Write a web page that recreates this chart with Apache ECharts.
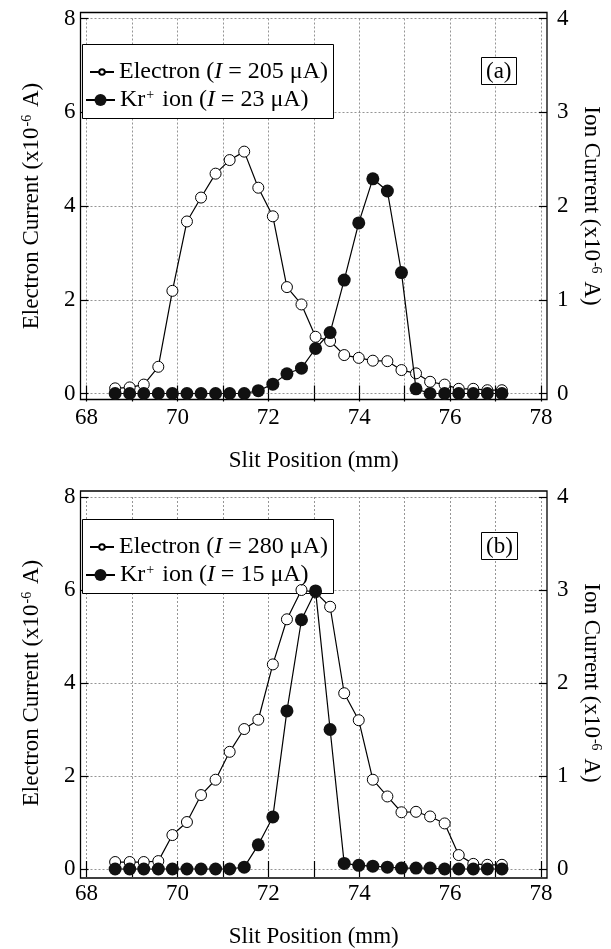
<!DOCTYPE html>
<html><head><meta charset="utf-8">
<script src="https://cdn.jsdelivr.net/npm/echarts@6/dist/echarts.min.js"></script>
<style>html,body{margin:0;padding:0;background:#fff}#c{width:611px;height:949px}</style>
</head><body><div id="c"></div>
<script>
// ---- data ----
const slitPos = [68.63, 68.95, 69.26, 69.58, 69.89, 70.21, 70.52, 70.84, 71.15, 71.47, 71.78, 72.10, 72.41, 72.73, 73.04, 73.36, 73.67, 73.99, 74.30, 74.62, 74.93, 75.25, 75.56, 75.88, 76.19, 76.51, 76.82, 77.14];
const electronA = [0.11, 0.13, 0.19, 0.57, 2.19, 3.67, 4.18, 4.69, 4.98, 5.16, 4.39, 3.78, 2.27, 1.90, 1.21, 1.12, 0.82, 0.76, 0.70, 0.69, 0.50, 0.43, 0.25, 0.19, 0.10, 0.10, 0.07, 0.07];
const ionA = [0, 0, 0, 0, 0, 0, 0, 0, 0, 0, 0.03, 0.10, 0.21, 0.27, 0.48, 0.65, 1.21, 1.82, 2.29, 2.16, 1.29, 0.05, 0, 0, 0, 0, 0, 0];
const electronB = [0.15, 0.15, 0.15, 0.17, 0.73, 1.01, 1.59, 1.92, 2.52, 3.01, 3.21, 4.40, 5.37, 6.00, 5.95, 5.64, 3.78, 3.20, 1.92, 1.56, 1.22, 1.23, 1.13, 0.98, 0.30, 0.11, 0.09, 0.09];
const ionB = [0, 0, 0, 0, 0, 0, 0, 0, 0, 0.02, 0.26, 0.56, 1.70, 2.68, 2.99, 1.50, 0.06, 0.04, 0.03, 0.02, 0.01, 0.01, 0.01, 0, 0, 0, 0, 0];
const xTicks = [68, 70, 72, 74, 76, 78];
const panelLabels = ['(a)', '(b)'];
const legendTexts = {
  eA: 'Electron ({it|I} = 205 μA)',
  iA: 'Kr{sup|+} ion ({it|I} = 23 μA)',
  eB: 'Electron ({it|I} = 280 μA)',
  iB: 'Kr{sup|+} ion ({it|I} = 15 μA)'
};
const xName = 'Slit Position (mm)';
const yLeftName = 'Electron Current (x10{sup|-6} A)';
const yRightName = 'Ion Current (x10{sup|-6} A)';

// ---- layout ----
const FONT = 'Liberation Serif';
const BLACK = '#000';
function textStyle(size) {
  return {fontFamily: FONT, fontSize: size, color: BLACK, rich: {
    it: {fontFamily: FONT, fontSize: size, fontStyle: 'italic', color: BLACK},
    sup: {fontFamily: FONT, fontSize: Math.round(size * 0.6), verticalAlign: 'top', color: BLACK, padding: [0, 2, 0, 1]}
  }};
}
const axisText = textStyle(23);
const legText = textStyle(24);
const panelTops = [18.5, 497];
const legendShift = [0, 475];
const DL = 86.5, DW = 454.5, DH = 375, OFF = 6;

const grid = [], xAxis = [], yAxis = [], series = [], legend = [], title = [], graphic = [];
const sets = [[electronA, ionA, 'eA', 'iA'], [electronB, ionB, 'eB', 'iB']];

panelTops.forEach((T, p) => {
  const g = grid.length;
  grid.push({left: DL, top: T, width: DW, height: DH});
  grid.push({left: DL - OFF, top: T - OFF, width: DW + 2 * OFF, height: DH + 2 * OFF,
    show: true, borderColor: BLACK, borderWidth: 1.3, backgroundColor: 'transparent'});
  const xi = xAxis.length, yi = yAxis.length;
  const tick = {show: true, inside: true, length: 8, lineStyle: {color: BLACK, width: 1.2}};
  const grey = {show: true, lineStyle: {color: '#8a8a8a', width: 0.9, type: [2, 2]}};
  xAxis.push({gridIndex: g, type: 'value', min: 68, max: 78, interval: 1, position: 'bottom', offset: OFF,
    axisLine: {show: false}, axisTick: tick,
    axisLabel: {fontFamily: FONT, fontSize: 23, color: BLACK, margin: 7,
      formatter: v => xTicks.indexOf(v) >= 0 ? String(v) : ''},
    splitLine: grey,
    name: xName, nameLocation: 'middle', nameGap: 50, nameTextStyle: axisText});
  xAxis.push({gridIndex: g, type: 'value', min: 68, max: 78, interval: 1, position: 'top', offset: OFF,
    axisLine: {show: false}, axisTick: tick, axisLabel: {show: false}, splitLine: {show: false}});
  xAxis.push({gridIndex: g + 1, type: 'value', min: 0, max: 1, show: false});
  yAxis.push({gridIndex: g, type: 'value', min: 0, max: 8, interval: 2, position: 'left', offset: OFF,
    axisLine: {show: false}, axisTick: tick,
    axisLabel: {fontFamily: FONT, fontSize: 23, color: BLACK, margin: 5},
    splitLine: grey,
    name: yLeftName, nameLocation: 'middle', nameGap: 37, nameTextStyle: axisText});
  yAxis.push({gridIndex: g, type: 'value', min: 0, max: 4, interval: 1, position: 'right', offset: OFF,
    axisLine: {show: false}, axisTick: tick,
    axisLabel: {fontFamily: FONT, fontSize: 23, color: BLACK, margin: 10},
    splitLine: {show: false},
    name: yRightName, nameLocation: 'middle', nameRotate: -90, nameGap: 32, nameTextStyle: axisText});
  yAxis.push({gridIndex: g + 1, type: 'value', min: 0, max: 1, show: false});

  const [el, io, en, inm] = sets[p];
  series.push({type: 'line', name: en, xAxisIndex: xi, yAxisIndex: yi, clip: false,
    data: slitPos.map((x, i) => [x, el[i]]),
    symbol: 'circle', symbolSize: 11,
    itemStyle: {color: '#fff', borderColor: BLACK, borderWidth: 1},
    lineStyle: {color: BLACK, width: 1.2}, z: 2});
  series.push({type: 'line', name: inm, xAxisIndex: xi, yAxisIndex: yi + 1, clip: false,
    data: slitPos.map((x, i) => [x, io[i]]),
    symbol: 'circle', symbolSize: 13,
    itemStyle: {color: '#111', borderColor: '#111', borderWidth: 0},
    lineStyle: {color: BLACK, width: 1.2}, z: 3});

  const lt = legendShift[p];
  legend.push({data: [en], left: 89, top: lt + 60, padding: 0, itemWidth: 24, itemHeight: 7,
    textStyle: legText, formatter: n => legendTexts[n], selectedMode: false});
  legend.push({data: [inm], left: 85, top: lt + 88, padding: 0, itemWidth: 29, itemHeight: 15,
    textStyle: legText, formatter: n => legendTexts[n], selectedMode: false});
  graphic.push({type: 'rect', z: 1, shape: {x: 82.5, y: lt + 44.5, width: 251, height: 74},
    style: {fill: '#fff', stroke: BLACK, lineWidth: 1}});
  title.push({text: panelLabels[p], left: 481, top: lt + 57, padding: [3, 5, 2, 5],
    backgroundColor: '#fff', borderColor: BLACK, borderWidth: 1,
    textStyle: {fontFamily: FONT, fontSize: 23, fontWeight: 'normal', color: BLACK}});
});

const chart = echarts.init(document.getElementById('c'), null, {renderer: 'canvas'});
chart.setOption({animation: false, backgroundColor: '#fff',
  grid, xAxis, yAxis, series, legend, title, graphic});
</script>
</body></html>
